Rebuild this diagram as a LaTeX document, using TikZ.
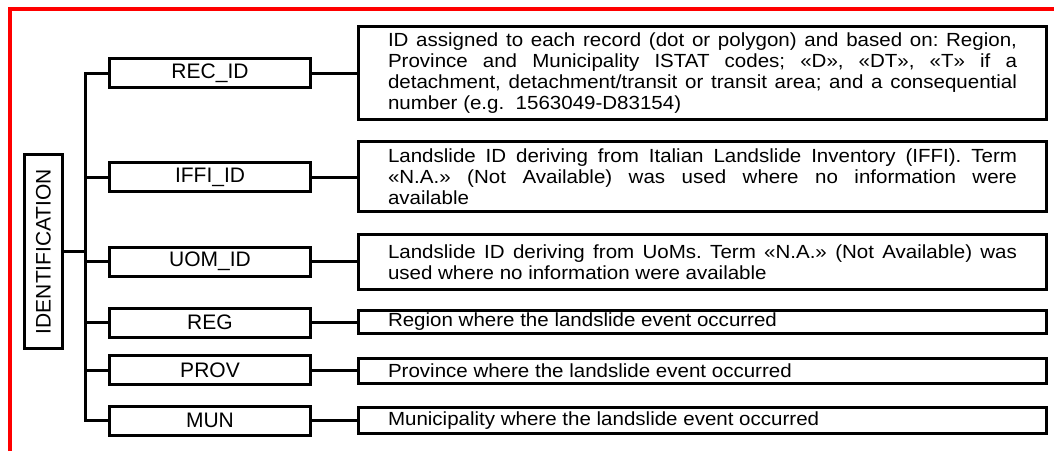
\documentclass[tikz,border=0pt]{standalone}
\usepackage{fontspec}
\setmainfont{Liberation Sans}
\newfontfamily\descfont{Liberation Sans}[FakeStretch=1.08]
\newcommand\descsetup{\descfont\fontsize{19}{21}\selectfont\frenchspacing\tolerance=10000\relax\hyphenpenalty=10000\relax}
\begin{document}
\begin{tikzpicture}[x=1pt,y=-1pt,
  frame/.style={draw=red, line width=4pt},
  box/.style={draw, line width=3pt, inner sep=0pt},
  midbox/.style={box, minimum width=200.5pt, minimum height=29pt,
    font=\fontsize{21}{24}\selectfont},
  descbox/.style={box, text width=629pt, inner xsep=29.5pt, inner ysep=0pt, align=justify,
    font=\descsetup},
  link/.style={line width=3pt}]
\useasboundingbox (0,0) rectangle (1054,451);
\draw[frame] (10,451) -- (10,9) -- (1054,9);

\node[box, rotate=90, minimum width=194pt, minimum height=38pt,
  font=\fontsize{21}{24}\selectfont] (idb) at (43.5,251.5) {IDENTIFICATION};

\node[midbox] (rec)  at (210,73)    {REC\_ID};
\node[midbox] (iffi) at (210,177)   {IFFI\_ID};
\node[midbox] (uom)  at (210,261.5) {UOM\_ID};
\node[midbox] (reg)  at (210,322.5) {REG};
\node[midbox] (prov) at (210,370)   {PROV};
\node[midbox] (mun)  at (210,420.5) {MUN};

\node[descbox, minimum height=93pt] (drec) at (702.5,73) {ID assigned to each record (dot or polygon) and based on: Region,\linebreak Province and Municipality ISTAT codes; «D», «DT», «T» if a\linebreak detachment, detachment/transit or transit area; and a consequential\linebreak number (e.g.\ \ 1563049-D83154)};
\node[descbox, minimum height=70pt] (diffi) at (702.5,176.5) {Landslide ID deriving from Italian Landslide Inventory (IFFI). Term\linebreak «N.A.» (Not Available) was used where no information were\linebreak available};
\node[descbox, minimum height=55pt] (duom) at (702.5,262) {Landslide ID deriving from UoMs. Term «N.A.» (Not Available) was\linebreak used where no information were available};
\node[descbox, minimum height=23pt] (dreg) at (702.5,322) {Region where the landslide event occurred};
\node[descbox, minimum height=25pt] (dprov) at (702.5,371) {Province where the landslide event occurred};
\node[descbox, minimum height=26pt] (dmun) at (702.5,420.5) {Municipality where the landslide event occurred};

\coordinate (trk) at (85,0);
\draw[link] (rec.west) -- (rec.west -| trk) -- (mun.west -| trk) -- (mun.west);
\draw[link] (idb.south) -- (idb.south -| trk);
\foreach \b in {iffi,uom,reg,prov}{
  \draw[link] (\b.west -| trk) -- (\b.west);
}
\draw[link] (rec.east) -- (rec.east -| drec.west);
\draw[link] (iffi.east) -- (iffi.east -| diffi.west);
\draw[link] (uom.east) -- (uom.east -| duom.west);
\draw[link] (reg.east) -- (reg.east -| dreg.west);
\draw[link] (prov.east) -- (prov.east -| dprov.west);
\draw[link] (mun.east) -- (mun.east -| dmun.west);
\end{tikzpicture}
\end{document}
